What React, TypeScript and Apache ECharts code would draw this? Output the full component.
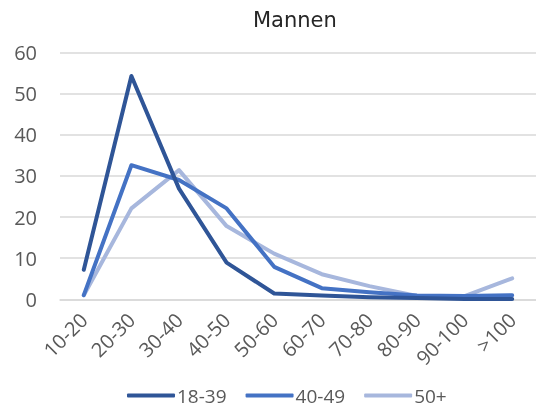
import React, { useEffect, useRef } from "react";
import * as echarts from "echarts";

const categories = ["10-20", "20-30", "30-40", "40-50", "50-60", "60-70", "70-80", "80-90", "90-100", ">100"];
const yTicks = [0, 10, 20, 30, 40, 50, 60];
const seriesNames = ["18-39", "40-49", "50+"];
const young = [7.2, 54.3, 26.9, 8.9, 1.4, 0.9, 0.5, 0.3, 0.1, 0.1];
const middle = [1.0, 32.6, 29.0, 22.1, 7.9, 2.7, 1.7, 0.9, 0.8, 1.0];
const older = [1.0, 22.1, 31.4, 17.8, 11.1, 6.1, 3.2, 0.8, 0.8, 5.1];
const colors = ["#2F5597", "#4472C4", "#A7B7DD"];

export default function App() {
  const ref = useRef<HTMLDivElement>(null);
  useEffect(() => {
    if (!ref.current) return;
    const chart = echarts.init(ref.current, undefined, { renderer: "svg" });
    const datasets = [young, middle, older];
    chart.setOption({
      animation: false,
      title: {
        text: "Mannen",
        left: 248,
        top: 4,
        textStyle: { fontFamily: "DejaVu Sans", fontSize: 21, fontWeight: "normal", color: "#262626" },
      },
      legend: {
        left: 127,
        top: 386,
        padding: 0,
        icon: "roundRect",
        itemWidth: 48,
        itemHeight: 4,
        itemGap: 19,
        data: seriesNames,
        textStyle: { fontFamily: "Open Sans", fontSize: 19, color: "#595959", padding: [0, 0, 0, -3] },
      },
      grid: { left: 60, right: -7, top: 52.5, bottom: 107.7, containLabel: false },
      xAxis: {
        type: "category",
        data: categories,
        boundaryGap: true,
        axisLine: { lineStyle: { color: "#D9D9D9", width: 1.5 } },
        axisTick: { show: false },
        axisLabel: { rotate: 45, margin: 17, fontFamily: "Open Sans", fontSize: 20, color: "#595959", interval: 0 },
      },
      yAxis: {
        type: "value",
        min: yTicks[0],
        max: yTicks[yTicks.length - 1],
        interval: 10,
        axisLine: { show: false },
        axisTick: { show: false },
        axisLabel: { margin: 23, fontFamily: "Open Sans", fontSize: 20, color: "#595959" },
        splitLine: { lineStyle: { color: "#D9D9D9", width: 1.5 } },
      },
      series: seriesNames.map((name, i) => ({
        name,
        type: "line",
        data: datasets[i],
        symbol: "none",
        color: colors[i],
        lineStyle: { width: 4, color: colors[i], cap: "round", join: "round" },
        z: 3 - i,
      })),
    });
    return () => chart.dispose();
  }, []);
  return <div ref={ref} style={{ position: "fixed", left: 0, top: 0, width: 536, height: 407 }} />;
}
